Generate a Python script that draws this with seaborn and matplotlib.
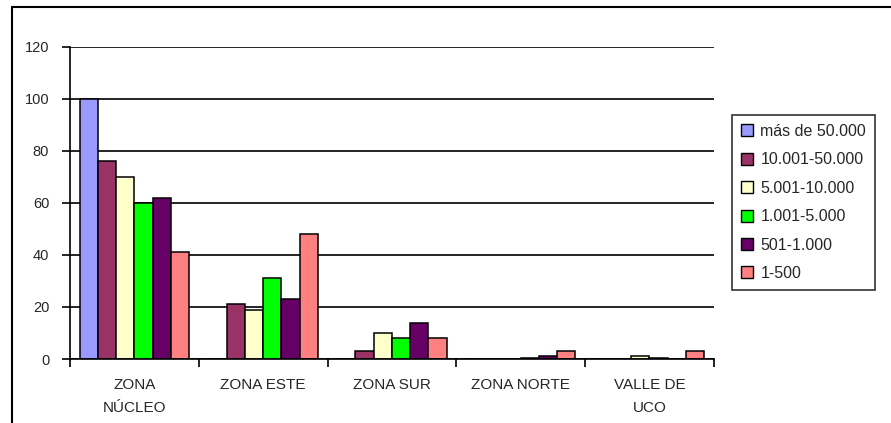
import pandas as pd
import matplotlib.pyplot as plt
import seaborn as sns
from matplotlib.lines import Line2D

# chart data
zonas = ['ZONA\nNÚCLEO', 'ZONA ESTE', 'ZONA SUR', 'ZONA NORTE', 'VALLE DE\nUCO']
rangos = ['más de 50.000', '10.001-50.000', '5.001-10.000', '1.001-5.000', '501-1.000', '1-500']
mas_50000 = [100, 0, 0, 0, 0]
r_10001_50000 = [76, 21, 3, 0, 0]
r_5001_10000 = [70, 19, 10, 0, 1]
r_1001_5000 = [60, 31, 8, 0.3, 0.4]
r_501_1000 = [62, 23, 14, 1, 0]
r_1_500 = [41, 48, 8, 3, 3]
colores = ['#9999FF', '#993366', '#FFFFCC', '#00FF00', '#660066', '#FF8080']


def get_long_df():
    series = [mas_50000, r_10001_50000, r_5001_10000, r_1001_5000, r_501_1000, r_1_500]
    rows = []
    for rango, vals in zip(rangos, series):
        for zona, v in zip(zonas, vals):
            rows.append({'Zona': zona, 'Rango': rango, 'Valor': v})
    return pd.DataFrame(rows)


if __name__ == '__main__':
    df = get_long_df()

    sns.set_style('white')
    plt.rcParams['font.family'] = ['Liberation Sans', 'DejaVu Sans']

    fig = plt.figure(figsize=(8.91, 4.23), dpi=100)
    ax = fig.add_axes([0.0786, 0.1513, 0.7225, 0.7376])

    sns.barplot(data=df, x='Zona', y='Valor', hue='Rango', order=zonas,
                hue_order=rangos, palette=colores, width=0.85, saturation=1,
                edgecolor='black', linewidth=1.1, ax=ax, legend=True)

    ax.set_ylim(0, 120)
    ax.set_xlim(-0.5, len(zonas) - 0.5)
    ax.set_yticks(range(0, 121, 20))
    ax.yaxis.grid(True, color='black', linewidth=1.2)
    ax.set_axisbelow(True)
    ax.set_xlabel('')
    ax.set_ylabel('')

    # group boundaries as major ticks, labels on minor ticks
    ax.set_xticks([i - 0.5 for i in range(len(zonas) + 1)])
    ax.set_xticklabels([])
    ax.set_xticks(range(len(zonas)), minor=True)
    ax.set_xticklabels(zonas, minor=True, fontsize=11, linespacing=1.75)
    ax.tick_params(axis='x', which='major', direction='out', length=6, width=1.2,
                   color='black', bottom=True)
    ax.tick_params(axis='x', which='minor', length=0, pad=14)
    ax.tick_params(axis='y', direction='out', length=6, width=1.2, color='black',
                   left=True, labelsize=10.5, pad=9)

    for side in ['top', 'right']:
        ax.spines[side].set_visible(False)
    for side in ['left', 'bottom']:
        ax.spines[side].set_color('black')
        ax.spines[side].set_linewidth(1.2)

    # legend
    handles = [Line2D([], [], marker='s', linestyle='', markersize=8,
                      markerfacecolor=c, markeredgecolor='black', markeredgewidth=1)
               for c in colores]
    ax.get_legend().remove()
    leg = fig.legend(handles, rangos, loc='upper left',
                     bbox_to_anchor=(0.821, 0.728), fontsize=11.5,
                     frameon=True, fancybox=False, edgecolor='black',
                     handlelength=0.8, handletextpad=0.45, labelspacing=0.84,
                     borderpad=0.55, borderaxespad=0)
    leg.get_frame().set_linewidth(1.2)

    # outer chart border
    fig.add_artist(Line2D([0.0135, 0.0135], [0, 0.983], color='black', linewidth=1.5,
                          transform=fig.transFigure))
    fig.add_artist(Line2D([0.0135, 1.0], [0.983, 0.983], color='black', linewidth=1.5,
                          transform=fig.transFigure))

    plt.savefig('out.png', dpi=100)
    plt.close()
